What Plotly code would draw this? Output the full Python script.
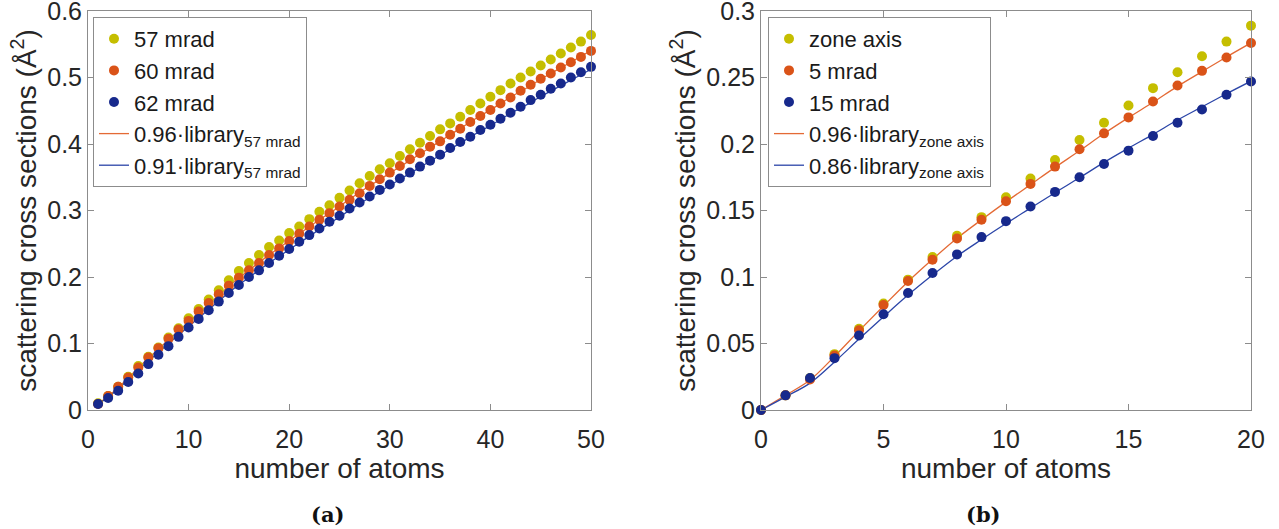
import plotly.graph_objects as go

# ---------------- data (a) ----------------
atoms_a = list(range(1, 51))
mrad57 = [0.010, 0.021, 0.035, 0.050, 0.066, 0.080, 0.094, 0.109, 0.123, 0.138,
          0.152, 0.166, 0.180, 0.195, 0.209, 0.221, 0.233, 0.245, 0.255, 0.266,
          0.276, 0.287, 0.298, 0.308, 0.319, 0.330, 0.341, 0.352, 0.362, 0.371,
          0.382, 0.392, 0.402, 0.412, 0.422, 0.431, 0.441, 0.451, 0.461, 0.471,
          0.481, 0.491, 0.500, 0.509, 0.518, 0.527, 0.536, 0.545, 0.554, 0.564]
mrad60 = [0.009, 0.021, 0.035, 0.049, 0.064, 0.079, 0.093, 0.107, 0.121, 0.134,
          0.148, 0.161, 0.174, 0.187, 0.199, 0.210, 0.221, 0.233, 0.243, 0.254,
          0.265, 0.276, 0.286, 0.296, 0.306, 0.316, 0.326, 0.337, 0.347, 0.357,
          0.367, 0.377, 0.386, 0.396, 0.404, 0.414, 0.423, 0.433, 0.442, 0.451,
          0.461, 0.470, 0.480, 0.489, 0.498, 0.506, 0.515, 0.523, 0.531, 0.540]
mrad62 = [0.009, 0.018, 0.029, 0.042, 0.055, 0.069, 0.083, 0.096, 0.110, 0.124,
          0.137, 0.150, 0.163, 0.176, 0.188, 0.200, 0.210, 0.221, 0.232, 0.242,
          0.253, 0.263, 0.273, 0.283, 0.292, 0.303, 0.312, 0.321, 0.331, 0.339,
          0.348, 0.357, 0.366, 0.375, 0.384, 0.394, 0.403, 0.411, 0.421, 0.429,
          0.438, 0.447, 0.456, 0.466, 0.474, 0.483, 0.491, 0.500, 0.508, 0.516]
library_57mrad = [0.010, 0.021, 0.035, 0.050, 0.066, 0.081, 0.095, 0.110, 0.124, 0.138,
                  0.152, 0.166, 0.180, 0.194, 0.207, 0.219, 0.231, 0.243, 0.254, 0.265,
                  0.276, 0.287, 0.298, 0.308, 0.319, 0.330, 0.341, 0.351, 0.361, 0.371,
                  0.381, 0.391, 0.401, 0.411, 0.421, 0.431, 0.441, 0.451, 0.461, 0.470,
                  0.480, 0.490, 0.499, 0.508, 0.518, 0.527, 0.536, 0.545, 0.554, 0.563]
scale_a = [0.96, 0.91]

# ---------------- data (b) ----------------
atoms_b = list(range(0, 21))
zone_axis = [0.000, 0.011, 0.024, 0.042, 0.061, 0.080, 0.098, 0.115, 0.131, 0.145,
             0.160, 0.174, 0.188, 0.203, 0.216, 0.229, 0.242, 0.254, 0.266, 0.277, 0.289]
mrad5 = [0.000, 0.011, 0.023, 0.041, 0.060, 0.079, 0.097, 0.113, 0.129, 0.143,
         0.157, 0.170, 0.183, 0.196, 0.208, 0.220, 0.232, 0.244, 0.255, 0.265, 0.276]
mrad15 = [0.000, 0.011, 0.024, 0.039, 0.056, 0.072, 0.088, 0.103, 0.117, 0.130,
          0.142, 0.153, 0.164, 0.175, 0.185, 0.195, 0.206, 0.216, 0.226, 0.237, 0.247]
library_zone = [0.000, 0.0115, 0.0235, 0.042, 0.062, 0.0815, 0.1005, 0.118, 0.1345, 0.149,
                0.163, 0.1765, 0.190, 0.203, 0.2165, 0.229, 0.241, 0.2535, 0.265, 0.2765, 0.2875]
scale_b = [0.96, 0.86]

x_ticks_a = [0, 10, 20, 30, 40, 50]
y_ticks_a = [0, 0.1, 0.2, 0.3, 0.4, 0.5, 0.6]
y_labels_a = ["0", "0.1", "0.2", "0.3", "0.4", "0.5", "0.6"]
x_ticks_b = [0, 5, 10, 15, 20]
y_ticks_b = [0, 0.05, 0.1, 0.15, 0.2, 0.25, 0.3]
y_labels_b = ["0", "0.05", "0.1", "0.15", "0.2", "0.25", "0.3"]

YEL = "#C5BE00"
ORA = "#DA5318"
BLU = "#17298C"
ORA_L = "#E46A35"
BLU_L = "#2B45A8"
FONT = "Liberation Sans, Arial, sans-serif"

fig = go.Figure()

def add_panel(x, pts, names, lib, scales, labels, xa, ya, leg):
    for s, c, lab, rank in zip(scales, [ORA_L, BLU_L], labels, [4, 5]):
        fig.add_trace(go.Scatter(
            x=x, y=[s * v for v in lib], mode="lines", name=lab,
            line=dict(color=c, width=1.3, shape="spline"),
            xaxis=xa, yaxis=ya, legend=leg, legendrank=rank, cliponaxis=False))
    for y, c, n, rank in zip(pts, [YEL, ORA, BLU], names, [1, 2, 3]):
        fig.add_trace(go.Scatter(
            x=x, y=y, mode="markers", name=n,
            marker=dict(color=c, size=10, line=dict(width=0)),
            xaxis=xa, yaxis=ya, legend=leg, legendrank=rank, cliponaxis=False))

add_panel(atoms_a, [mrad57, mrad60, mrad62], ["57 mrad", "60 mrad", "62 mrad"],
          library_57mrad, scale_a,
          ["0.96·library<sub>57 mrad</sub>", "0.91·library<sub>57 mrad</sub>"],
          "x", "y", "legend")
add_panel(atoms_b, [zone_axis, mrad5, mrad15], ["zone axis", "5 mrad", "15 mrad"],
          library_zone, scale_b,
          ["0.96·library<sub>zone axis</sub>", "0.86·library<sub>zone axis</sub>"],
          "x2", "y2", "legend2")

W, H = 1279, 529
ydom = [(H - 410) / H, (H - 11) / H]

axis_common = dict(
    showline=True, linecolor="#8c8c8c", linewidth=1, mirror="allticks",
    ticks="inside", ticklen=6, tickcolor="#8c8c8c", tickwidth=1,
    showgrid=False, zeroline=False, ticklabeloverflow="allow",
    tickfont=dict(family=FONT, size=25, color="#262626"),
    automargin=False,
)
title_font = dict(family=FONT, size=28, color="#262626")
ytitle = "scattering cross sections (Å<sup>2</sup>)"
legend_common = dict(
    yanchor="top", xanchor="left", bgcolor="white", bordercolor="#8c8c8c", borderwidth=1,
    font=dict(family=FONT, size=22, color="#1a1a1a"), itemwidth=30, tracegroupgap=0,
)

fig.update_layout(
    width=W, height=H,
    margin=dict(l=0, r=0, t=0, b=0),
    paper_bgcolor="white", plot_bgcolor="white",
    font=dict(family=FONT, color="#262626"),
    xaxis=dict(domain=[88 / W, 591 / W], range=[0, 50], tickvals=x_ticks_a,
               title=dict(text="number of atoms", font=title_font, standoff=2),
               anchor="y", ticklabelstandoff=7, **axis_common),
    yaxis=dict(domain=ydom, range=[0, 0.6], tickvals=y_ticks_a, ticktext=y_labels_a,
               title=dict(text=ytitle, font=title_font, standoff=2),
               anchor="x", ticklabelstandoff=0, **axis_common),
    xaxis2=dict(domain=[761 / W, 1251 / W], range=[0, 20], tickvals=x_ticks_b,
                title=dict(text="number of atoms", font=title_font, standoff=2),
                anchor="y2", ticklabelstandoff=7, **axis_common),
    yaxis2=dict(domain=ydom, range=[0, 0.3], tickvals=y_ticks_b, ticktext=y_labels_b,
                title=dict(text=ytitle, font=title_font, standoff=2),
                anchor="x2", ticklabelstandoff=0, **axis_common),
    legend=dict(x=93 / W, y=(H - 17) / H, **legend_common),
    legend2=dict(x=768 / W, y=(H - 17) / H, **legend_common),
    annotations=[
        dict(text="<b>(a)</b>", x=327 / W, y=(H - 514) / H, xref="paper", yref="paper",
             xanchor="center", yanchor="middle",
             showarrow=False, font=dict(family="DejaVu Serif, serif", size=21, color="#111")),
        dict(text="<b>(b)</b>", x=984 / W, y=(H - 514) / H, xref="paper", yref="paper",
             xanchor="center", yanchor="middle",
             showarrow=False, font=dict(family="DejaVu Serif, serif", size=21, color="#111")),
    ],
)

fig.write_html("out.html",
               config={"displayModeBar": False},
               post_script="document.body.style.margin='0';document.body.style.overflow='hidden';")
